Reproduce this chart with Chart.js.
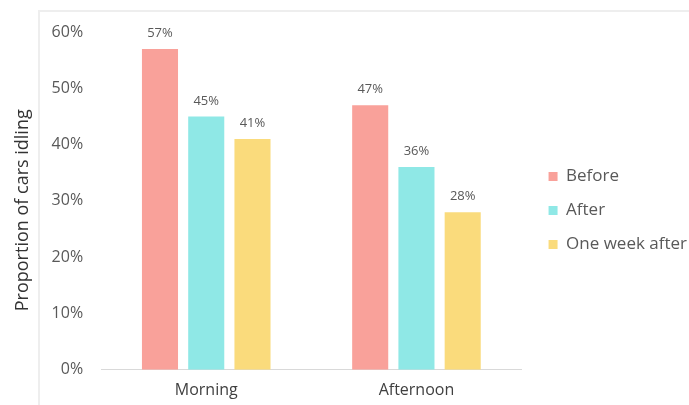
<!DOCTYPE html>
<html>
<head>
<meta charset="utf-8">
<script src="https://cdn.jsdelivr.net/npm/chart.js@4"></script>
<style>
  html, body { margin: 0; padding: 0; background: #ffffff; }
  #wrap { position: relative; width: 689px; height: 405px; overflow: hidden; }
  #frame { position: absolute; left: 38px; top: 10px; right: -10px; bottom: -10px;
           border-top: 2px solid #eeeeee; border-left: 2px solid #eeeeee; pointer-events: none; }
  canvas { position: absolute; left: 0; top: 0; }
</style>
</head>
<body>
<div id="wrap">
  <canvas id="c" width="689" height="405"></canvas>
  <div id="frame"></div>
</div>
<script>
const categories = ["Morning", "Afternoon"];
const seriesNames = ["Before", "After", "One week after"];
const beforeValues = [57, 47];
const afterValues = [45, 36];
const oneWeekAfterValues = [41, 28];
const yTicks = [0, 10, 20, 30, 40, 50, 60];
const colors = ["#F9A19A", "#8FE8E6", "#FADB7C"];
const yTitle = "Proportion of cars idling";

const valueLabels = {
  id: 'valueLabels',
  afterDatasetsDraw(chart) {
    const ctx = chart.ctx;
    ctx.save();
    ctx.font = '13px "Open Sans", sans-serif';
    ctx.fillStyle = '#595959';
    ctx.textAlign = 'center';
    ctx.textBaseline = 'bottom';
    chart.data.datasets.forEach((ds, i) => {
      chart.getDatasetMeta(i).data.forEach((bar, j) => {
        ctx.fillText(ds.data[j] + '%', bar.x, bar.y - 9);
      });
    });
    ctx.restore();
  }
};

// nudge the legend block to where the reference places it
const legendNudge = {
  id: 'legendNudge',
  afterLayout(chart) {
    const lg = chart.legend;
    if (!lg) return;
    lg.left += 10; lg.right += 10;
    lg.top -= 11; lg.bottom -= 11;
    if (lg.adjustHitBoxes) lg.adjustHitBoxes();
  }
};

new Chart(document.getElementById('c'), {
  type: 'bar',
  data: {
    labels: categories,
    datasets: [
      { label: seriesNames[0], data: beforeValues, backgroundColor: colors[0] },
      { label: seriesNames[1], data: afterValues, backgroundColor: colors[1] },
      { label: seriesNames[2], data: oneWeekAfterValues, backgroundColor: colors[2] }
    ]
  },
  options: {
    responsive: false,
    animation: false,
    devicePixelRatio: 1,
    layout: { padding: { top: 32, right: 2, bottom: -6, left: 4 } },
    datasets: { bar: { categoryPercentage: 0.66, barPercentage: 0.78 } },
    scales: {
      x: {
        grid: { display: false, drawTicks: false },
        border: { display: true, color: '#d9d9d9', width: 1 },
        ticks: { color: '#404040', font: { family: 'Open Sans', size: 16 }, padding: 11 }
      },
      y: {
        min: 0, max: 60,
        afterBuildTicks(scale) { scale.ticks = yTicks.map(v => ({ value: v })); },
        grid: { display: false, drawTicks: false },
        border: { display: false },
        ticks: { color: '#595959', font: { family: 'Open Sans', size: 16 }, padding: 18,
                 callback: v => v + '%' },
        title: { display: true, text: yTitle + '\u00a0\u00a0\u00a0\u00a0', color: '#333333',
                 font: { family: 'Open Sans', size: 18 }, padding: { top: 8, bottom: 0 } }
      }
    },
    plugins: {
      legend: {
        position: 'right',
        labels: { boxWidth: 9, boxHeight: 9, padding: 17, color: '#595959',
                  font: { family: 'Open Sans', size: 17 } }
      },
      tooltip: { enabled: false }
    }
  },
  plugins: [valueLabels, legendNudge]
});
</script>
</body>
</html>
